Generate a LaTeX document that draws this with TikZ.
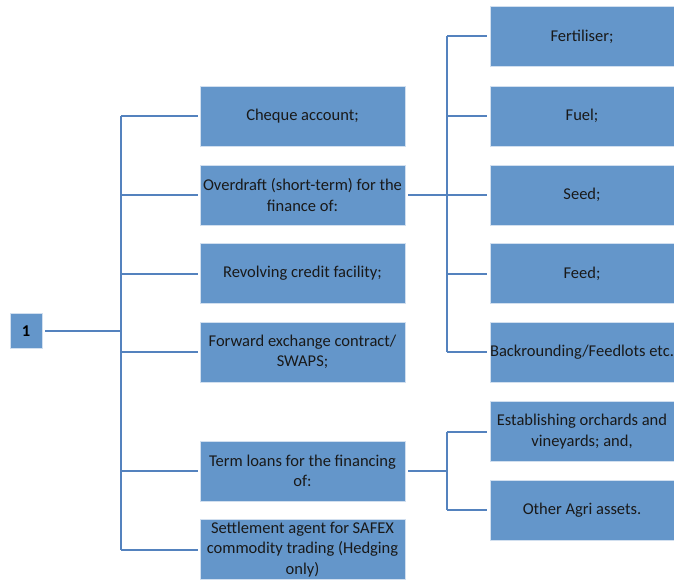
\documentclass[tikz,border=0pt]{standalone}
\usepackage{fontspec}
\setmainfont{Carlito}
\definecolor{boxfill}{RGB}{100,150,202}
\definecolor{linec}{RGB}{84,130,190}
\begin{document}
\begin{tikzpicture}[x=1pt,y=-1pt,
  box/.style={fill=boxfill, draw=white!70!boxfill, line width=0.6pt, inner sep=0pt, align=center,
    font=\fontsize{16.5}{20.5}\selectfont, text=black!90},
  mid/.style={box, minimum width=205pt, minimum height=60pt},
  rt/.style={box, minimum width=184pt, minimum height=60pt},
  conn/.style={draw=linec, line width=2pt}]
\useasboundingbox (0,0) rectangle (674,580);
\node[box, minimum width=32pt, minimum height=35pt, font=\bfseries\fontsize{16.5}{18}\selectfont, text=black] (root) at (26,331) {1};
% middle column
\node[mid] (cheque) at (302.5,116) {Cheque account;};
\node[mid] (overdraft) at (302.5,195) {Overdraft (short-term) for the\\finance of:};
\node[mid] (revolving) at (302.5,273.5) {Revolving credit facility;};
\node[mid] (forward) at (302.5,352) {Forward exchange contract/\\SWAPS;};
\node[mid] (term) at (302.5,471) {Term loans for the financing\\of:};
\node[mid] (settle) at (302.5,549.5) {Settlement agent for SAFEX\\commodity trading (Hedging\\only)};
% right column
\node[rt] (fert) at (582,36.5) {Fertiliser;};
\node[rt] (fuel) at (582,116) {Fuel;};
\node[rt] (seed) at (582,195) {Seed;};
\node[rt] (feed) at (582,273.5) {Feed;};
\node[rt] (back) at (582,352) {Backrounding/Feedlots etc.};
\node[rt] (estab) at (582,431.5) {Establishing orchards and\\vineyards; and,};
\node[rt] (other) at (582,510) {Other Agri assets.};
% connectors
\coordinate (T) at (121,331);
\draw[conn] (root.east) ++(3,0) -- (T);
\foreach \n in {cheque,overdraft,revolving,forward,term,settle}
  \draw[conn] ([xshift=-2pt]\n.west) -- (\n.west -| T);
\draw[conn] (cheque.west -| T) -- (settle.west -| T);
\coordinate (R) at (447,195);
\draw[conn] ([xshift=3pt]overdraft.east) -- (R);
\foreach \n in {fert,fuel,seed,feed,back}
  \draw[conn] ([xshift=-3pt]\n.west) -- (\n.west -| R);
\draw[conn] (fert.west -| R) -- (back.west -| R);
\coordinate (S) at (447,471);
\draw[conn] ([xshift=3pt]term.east) -- (S);
\foreach \n in {estab,other}
  \draw[conn] ([xshift=-3pt]\n.west) -- (\n.west -| S);
\draw[conn] (estab.west -| S) -- (other.west -| S);
\end{tikzpicture}
\end{document}
